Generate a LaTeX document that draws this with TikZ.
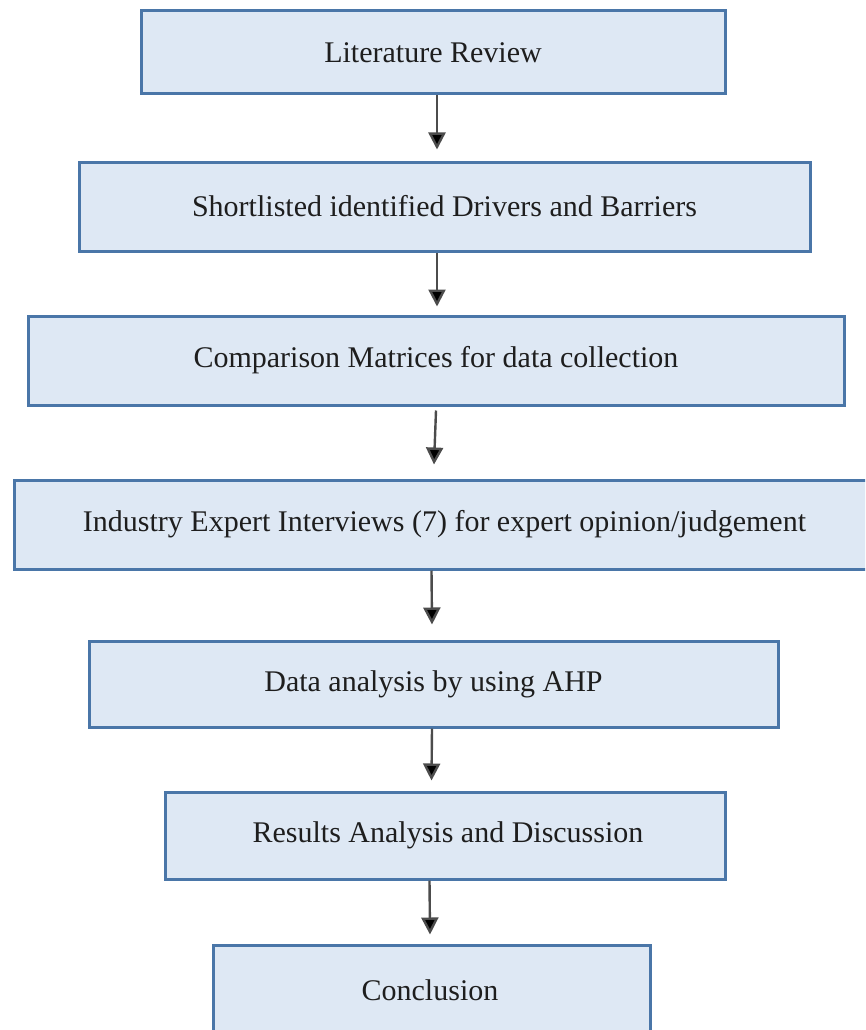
\documentclass[tikz,border=0pt]{standalone}
\usepackage{fontspec}
\setmainfont{Liberation Serif}
\usetikzlibrary{arrows.meta}
\definecolor{boxfill}{HTML}{DEE8F4}
\definecolor{boxline}{HTML}{4A76A8}
\definecolor{txt}{HTML}{1E1E1E}
\tikzset{
  stage/.style={draw=boxline, fill=boxfill, line width=3pt, inner sep=0pt,
    anchor=north west},
  label/.style={text=txt, font=\fontsize{30}{36}\selectfont, anchor=center},
  flow/.style={draw=black!70, line width=2.4pt,
    -{Triangle[width=17pt,length=17pt,fill=black]}}
}
\begin{document}
\begin{tikzpicture}[x=1pt,y=-1pt]
\useasboundingbox (0,0) rectangle (865,1030);
\clip (0,0) rectangle (865,1030);
% stage boxes, placed by their top-left corners
\node[stage, minimum width=584pt, minimum height=83pt] (s1) at (139.5,9.5) {};
\node[label] (t1) at (s1.center) {Literature Review};
\node[stage, minimum width=731pt, minimum height=89pt] (s2) at (77.5,160.5) {};
\node[label] (t2) at (s2.center) {Shortlisted identified Drivers and Barriers};
\node[stage, minimum width=816pt, minimum height=89pt] (s3) at (26.5,314.5) {};
\node[label] (t3) at (s3.center) {Comparison Matrices for data collection};
\node[stage, minimum width=865pt, minimum height=89pt] (s4) at (12.5,478.5) {};
\node[label] (t4) at ([xshift=-2pt]s4.center) {Industry Expert Interviews (7) for expert opinion/judgement};
\node[stage, minimum width=689pt, minimum height=86pt] (s5) at (87.5,639.5) {};
\node[label] (t5) at (s5.center) {Data analysis by using AHP};
\node[stage, minimum width=560pt, minimum height=87pt] (s6) at (163.5,790.5) {};
\node[label] (t6) at ([xshift=3pt]s6.center) {Results Analysis and Discussion};
\node[stage, minimum width=437pt, minimum height=100pt] (s7) at (211.5,943.5) {};
\node[label] (t7) at (430,990) {Conclusion};
% connectors
\draw[flow] ([xshift=4pt]s1.south) -- ([xshift=-7.5pt,yshift=11pt]s2.north);
\draw[flow] ([xshift=-7.5pt]s2.south) -- ([xshift=1pt,yshift=8pt]s3.north);
\draw[flow] ([xshift=0pt,yshift=-4pt]s3.south) -- ([xshift=-12.5pt,yshift=14pt]s4.north);
\draw[flow] ([xshift=-15pt]s4.south) -- ([xshift=-1.5pt,yshift=15pt]s5.north);
\draw[flow] ([xshift=-1.5pt]s5.south) -- ([xshift=-13.5pt,yshift=10pt]s6.north);
\draw[flow] ([xshift=-15.5pt]s6.south) -- ([xshift=-1.5pt,yshift=9pt]s7.north);
\end{tikzpicture}
\end{document}
